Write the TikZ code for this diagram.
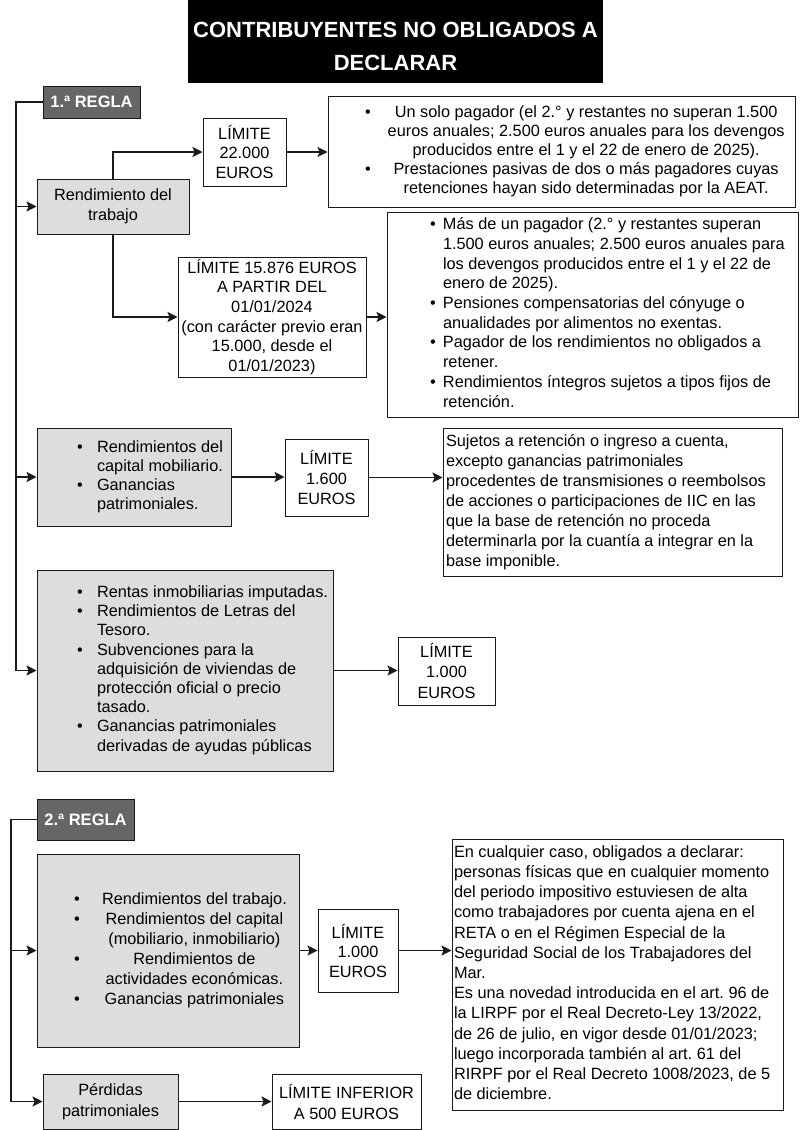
\documentclass[tikz,border=0pt]{standalone}
\usepackage{fontspec}
\setmainfont{Liberation Sans}
\usetikzlibrary{arrows.meta}
\definecolor{lgray}{HTML}{DDDDDD}
\definecolor{dgray}{HTML}{666666}
\definecolor{bord}{HTML}{1A1A1A}
\newcommand\fsz[1]{\fontsize{16.3}{#1}\selectfont}
\frenchspacing
\begin{document}
\begin{tikzpicture}[x=1pt,y=-1pt,
  box/.style={draw=bord, line width=1pt, inner sep=0pt, fill=white},
  gbox/.style={draw=bord, line width=1pt, inner sep=0pt, fill=lgray},
  cbox/.style={align=center},
  regla/.style={draw=bord, line width=1pt, fill=dgray, text=white, inner sep=0pt,
     font=\bfseries\fontsize{16.5}{20}\selectfont},
  titlebox/.style={fill=black, text=white, inner sep=0pt, align=center,
     font=\bfseries\fontsize{22}{33}\selectfont},
  ln/.style={line width=1.3pt, draw=bord},
  arr/.style={ln, -{Stealth[length=10pt,width=10pt,inset=2pt]}}
]
\useasboundingbox (0,0) rectangle (800,1130);
\fill[white] (0,0) rectangle (800,1130);

% title
\node[titlebox, minimum width=415pt, minimum height=83pt] (title) at (395.5,41.5)
  {\rule{0pt}{26pt}CONTRIBUYENTES NO OBLIGADOS A\\DECLARAR};

% ---- 1.a regla
\node[regla, minimum width=97pt, minimum height=32pt] (regla1) at (91.5,102) {1.ª REGLA};

\node[gbox, cbox, font=\fsz{20}, minimum width=152pt, minimum height=55pt] (rt) at (113,206.5)
  {Rendimiento del\\trabajo};

\node[box, cbox, font=\fsz{19.5}, minimum width=83pt, minimum height=68pt] (lim22) at (244.5,152)
  {LÍMITE\\22.000\\EUROS};

\node[box, font=\fsz{19}, minimum width=467pt, minimum height=111pt] (box2) at (561.5,151.5)
  {\makebox[467pt][l]{\hspace*{37pt}\begin{tabular}{@{}l@{\hspace{17pt}}c@{}}
  \textbullet & Un solo pagador (el 2.° y restantes no superan 1.500\\
  & euros anuales; 2.500 euros anuales para los devengos\\
  & producidos entre el 1 y el 22 de enero de 2025).\\
  \textbullet & Prestaciones pasivas de dos o más pagadores cuyas\\
  & retenciones hayan sido determinadas por la AEAT.
  \end{tabular}}};

\node[box, cbox, font=\fsz{19.6}, minimum width=188pt, minimum height=120pt] (lim15) at (272,317)
  {LÍMITE 15.876 EUROS\\A PARTIR DEL\\01/01/2024\\(con carácter previo eran\\15.000, desde el\\01/01/2023)};

\node[box, font=\fsz{19.7}, minimum width=411pt, minimum height=205pt] (box3) at (592.5,314.5)
  {\makebox[411pt][l]{\hspace*{43pt}\begin{tabular}{@{}l@{\hspace{7.3pt}}l@{}}
  \textbullet & Más de un pagador (2.° y restantes superan\\
  & 1.500 euros anuales; 2.500 euros anuales para\\
  & los devengos producidos entre el 1 y el 22 de\\
  & enero de 2025).\\
  \textbullet & Pensiones compensatorias del cónyuge o\\
  & anualidades por alimentos no exentas.\\
  \textbullet & Pagador de los rendimientos no obligados a\\
  & retener.\\
  \textbullet & Rendimientos íntegros sujetos a tipos fijos de\\
  & retención.
  \end{tabular}}};

\node[gbox, font=\fsz{19}, minimum width=194pt, minimum height=98pt] (capbox) at (134,477)
  {\makebox[194pt][l]{\hspace*{40pt}\begin{tabular}{@{}l@{\hspace{14.3pt}}l@{}}
  \textbullet & Rendimientos del\\
  & capital mobiliario.\\
  \textbullet & Ganancias\\
  & patrimoniales.
  \end{tabular}}};

\node[box, cbox, font=\fsz{20}, minimum width=83pt, minimum height=77pt] (lim16) at (326.5,477.5)
  {LÍMITE\\1.600\\EUROS};

\node[box, font=\fsz{20}, minimum width=339pt, minimum height=148pt] (box4) at (612.5,502)
  {\makebox[339pt][l]{\hspace*{3pt}\begin{tabular}{@{}l@{}}
  Sujetos a retención o ingreso a cuenta,\\
  excepto ganancias patrimoniales\\
  procedentes de transmisiones o reembolsos\\
  de acciones o participaciones de IIC en las\\
  que la base de retención no proceda\\
  determinarla por la cuantía a integrar en la\\
  base imponible.
  \end{tabular}}};

\node[gbox, font=\fsz{19.2}, minimum width=296pt, minimum height=201pt] (rentas) at (185,670.5)
  {\makebox[296pt][l]{\hspace*{40pt}\begin{tabular}{@{}l@{\hspace{14.3pt}}l@{}}
  \textbullet & Rentas inmobiliarias imputadas.\\
  \textbullet & Rendimientos de Letras del\\
  & Tesoro.\\
  \textbullet & Subvenciones para la\\
  & adquisición de viviendas de\\
  & protección oficial o precio\\
  & tasado.\\
  \textbullet & Ganancias patrimoniales\\
  & derivadas de ayudas públicas
  \end{tabular}}};

\node[box, cbox, font=\fsz{20.5}, minimum width=97pt, minimum height=68pt] (lim10a) at (446.5,671)
  {LÍMITE\\1.000\\EUROS};

% ---- 2.a regla
\node[regla, minimum width=97pt, minimum height=41pt] (regla2) at (85.5,819.5) {2.ª REGLA};

\node[gbox, font=\fsz{20}, minimum width=262pt, minimum height=193pt] (big2) at (168,950.5)
  {\makebox[262pt][l]{\hspace*{37pt}\begin{tabular}{@{}l@{\hspace{22.3pt}}c@{}}
  \textbullet & Rendimientos del trabajo.\\
  \textbullet & Rendimientos del capital\\
  & (mobiliario, inmobiliario)\\
  \textbullet & Rendimientos de\\
  & actividades económicas.\\
  \textbullet & Ganancias patrimoniales
  \end{tabular}}};

\node[box, cbox, font=\fsz{19.5}, minimum width=80pt, minimum height=83pt] (lim10b) at (358,950.5)
  {LÍMITE\\1.000\\EUROS};

\node[box, font=\fsz{20.2}, minimum width=331pt, minimum height=271pt] (box5) at (617.5,974.5)
  {\makebox[331pt][l]{\hspace*{2pt}\begin{tabular}{@{}l@{}}
  En cualquier caso, obligados a declarar:\\
  personas físicas que en cualquier momento\\
  del periodo impositivo estuviesen de alta\\
  como trabajadores por cuenta ajena en el\\
  RETA o en el Régimen Especial de la\\
  Seguridad Social de los Trabajadores del\\
  Mar.\\
  Es una novedad introducida en el art. 96 de\\
  la LIRPF por el Real Decreto-Ley 13/2022,\\
  de 26 de julio, en vigor desde 01/01/2023;\\
  luego incorporada también al art. 61 del\\
  RIRPF por el Real Decreto 1008/2023, de 5\\
  de diciembre.
  \end{tabular}}};

\node[gbox, cbox, font=\fsz{21}, minimum width=135pt, minimum height=55pt] (perd) at (110.5,1101.5)
  {Pérdidas\\patrimoniales};

\node[box, cbox, font=\fsz{21}, minimum width=149pt, minimum height=55pt] (liminf) at (346.5,1101.5)
  {LÍMITE INFERIOR\\A 500 EUROS};

% spine coordinates
\coordinate (sp1) at (16,0);
\coordinate (sp2) at (11,0);

% connectors rule 1
\draw[ln] (regla1.west) -- (regla1.west -| sp1) -- (sp1 |- rentas.west);
\draw[arr] (sp1 |- rt.west) -- (rt.west);
\draw[arr] (sp1 |- capbox.west) -- (capbox.west);
\draw[arr] (sp1 |- rentas.west) -- (rentas.west);

\draw[arr] (rt.north) |- (lim22.west);
\draw[arr] (lim22.east) -- (lim22.east -| box2.west);
\draw[arr] (rt.south) |- (lim15.west);
\draw[arr] (lim15.east) -- (lim15.east -| box3.west);
\draw[arr] (capbox.east) -- (capbox.east -| lim16.west);
\draw[arr] (lim16.east) -- (lim16.east -| box4.west);
\draw[arr] (rentas.east) -- (rentas.east -| lim10a.west);

% connectors rule 2
\draw[ln] (regla2.west) -- (regla2.west -| sp2) -- (sp2 |- perd.west);
\draw[arr] (sp2 |- big2.west) -- (big2.west);
\draw[arr] (sp2 |- perd.west) -- (perd.west);
\draw[arr] (big2.east) -- (big2.east -| lim10b.west);
\draw[arr] (lim10b.east) -- (lim10b.east -| box5.west);
\draw[arr] (perd.east) -- (liminf.west);
\end{tikzpicture}
\end{document}
